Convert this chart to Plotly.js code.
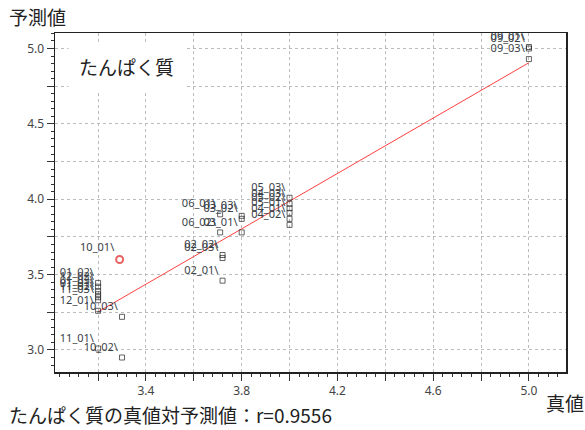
<!DOCTYPE html>
<html>
<head>
<meta charset="utf-8">
<script src="https://cdn.plot.ly/plotly-3.0.1.min.js"></script>
<style>html,body{margin:0;padding:0;background:#fff;}#chart{width:585px;height:430px;}</style>
</head>
<body>
<div id="chart"></div>
<script>
// ---- data ----
const sampleIds = ['01_01','01_02','01_03','02_01','02_02','02_03','03_01','03_02','03_03',
  '04_01','04_02','04_03','05_01','05_02','05_03','06_01','06_02',
  '09_01','09_02','09_03','10_01','10_02','10_03','11_01','11_02','11_03','12_01','12_02'];
const trueValues = [3.2,3.2,3.2,3.72,3.72,3.72,3.8,3.8,3.8,
  4.0,4.0,4.0,4.0,4.0,4.0,3.71,3.71,
  5.0,5.0,5.0,3.29,3.3,3.3,3.2,3.2,3.2,3.2,3.2];
const predictedValues = [3.37,3.445,3.39,3.46,3.63,3.61,3.78,3.87,3.89,
  3.87,3.83,3.97,3.91,3.94,4.01,3.90,3.78,
  5.01,5.00,4.93,3.60,2.95,3.22,3.01,3.35,3.33,3.26,3.42];
const highlightIds = ['10_01'];
const xTickVals = [3.2,3.4,3.6,3.8,4.0,4.2,4.4,4.6,4.8,5.0];
const xTickText = ['','3.4','','3.8','','4.2','','4.6','','5.0'];
const yTickVals = [3.0,3.25,3.5,3.75,4.0,4.25,4.5,4.75,5.0];
const yTickText = ['3.0','','3.5','','4.0','','4.5','','5.0'];
const chartTitle = 'たんぱく質の真値対予測値：r=0.9556';
const componentName = 'たんぱく質';
const xTitle = '真値';
const yTitle = '予測値';

// ---- least squares fit ----
const n = trueValues.length;
const mx = trueValues.reduce((a,b)=>a+b,0)/n;
const my = predictedValues.reduce((a,b)=>a+b,0)/n;
let sxy=0, sxx=0;
for (let i=0;i<n;i++){ sxy += (trueValues[i]-mx)*(predictedValues[i]-my); sxx += (trueValues[i]-mx)**2; }
const slope = sxy/sxx, intercept = my - slope*mx;
const fitX = [Math.min(...trueValues), Math.max(...trueValues)];
const fitY = fitX.map(x => intercept + slope*x);

const isHi = sampleIds.map(id => highlightIds.includes(id));

const jp = '"Noto Sans CJK JP", "Noto Sans", sans-serif';

const traces = [
  {x: fitX, y: fitY, mode: 'lines', line: {color: '#ff4040', width: 1}, hoverinfo: 'skip', showlegend: false},
  {x: trueValues, y: predictedValues, mode: 'markers+text',
   text: sampleIds.map(s => s + '\\'), textposition: 'top left',
   textfont: {family: '"Noto Sans", sans-serif', size: 11, color: '#3a3f48'},
   marker: {symbol: isHi.map(h => h ? 'circle-open' : 'square-open'),
            size: isHi.map(h => h ? 7 : 5),
            color: isHi.map(h => h ? '#e02020' : '#222'),
            line: {width: isHi.map(h => h ? 2 : 1)}},
   cliponaxis: false, showlegend: false}
];

const axisCommon = {
  showline: true, mirror: true, linecolor: '#222', linewidth: 1.5,
  ticks: 'outside', ticklen: 7, tickcolor: '#333', tickwidth: 1,
  showgrid: true, gridcolor: '#bcbcbc', griddash: 'dot', gridwidth: 1,
  zeroline: false, tickfont: {family: '"Noto Sans", sans-serif', size: 12, color: '#444'},
  tickmode: 'array'
};

const layout = {
  width: 585, height: 430,
  margin: {l: 55, r: 19, t: 33, b: 58},
  paper_bgcolor: '#fff', plot_bgcolor: '#fff',
  showlegend: false,
  xaxis: Object.assign({}, axisCommon, {range: [3.02, 5.155], tickvals: xTickVals, ticktext: xTickText,
    minor: {dtick: 0.04, tick0: 3.0, ticks: 'outside', ticklen: 3, tickcolor: '#333', showgrid: false}}),
  yaxis: Object.assign({}, axisCommon, {range: [2.854, 5.103], tickvals: yTickVals, ticktext: yTickText,
    minor: {dtick: 0.05, tick0: 3.0, ticks: 'outside', ticklen: 3, tickcolor: '#333', showgrid: false}}),
  annotations: [
    {text: yTitle, xref: 'paper', yref: 'paper', x: -0.094, y: 1.0, yshift: 17, xanchor: 'left', yanchor: 'middle',
     showarrow: false, font: {family: jp, size: 19, color: '#222'}},
    {text: xTitle, xref: 'paper', yref: 'paper', x: 1.04, y: 0, yshift: -30, xanchor: 'right', yanchor: 'middle',
     showarrow: false, font: {family: jp, size: 19, color: '#222'}},
    {text: chartTitle, xref: 'paper', yref: 'paper', x: -0.094, y: 0, yshift: -42, xanchor: 'left', yanchor: 'middle',
     showarrow: false, font: {family: jp, size: 19, color: '#222'}},
    {text: componentName, xref: 'paper', yref: 'paper', x: 0.025, y: 0.9, xanchor: 'left', yanchor: 'middle',
     showarrow: false, bgcolor: '#fff', borderpad: 10, font: {family: jp, size: 19, color: '#222'}}
  ]
};

Plotly.newPlot('chart', traces, layout, {staticPlot: true});
</script>
</body>
</html>
